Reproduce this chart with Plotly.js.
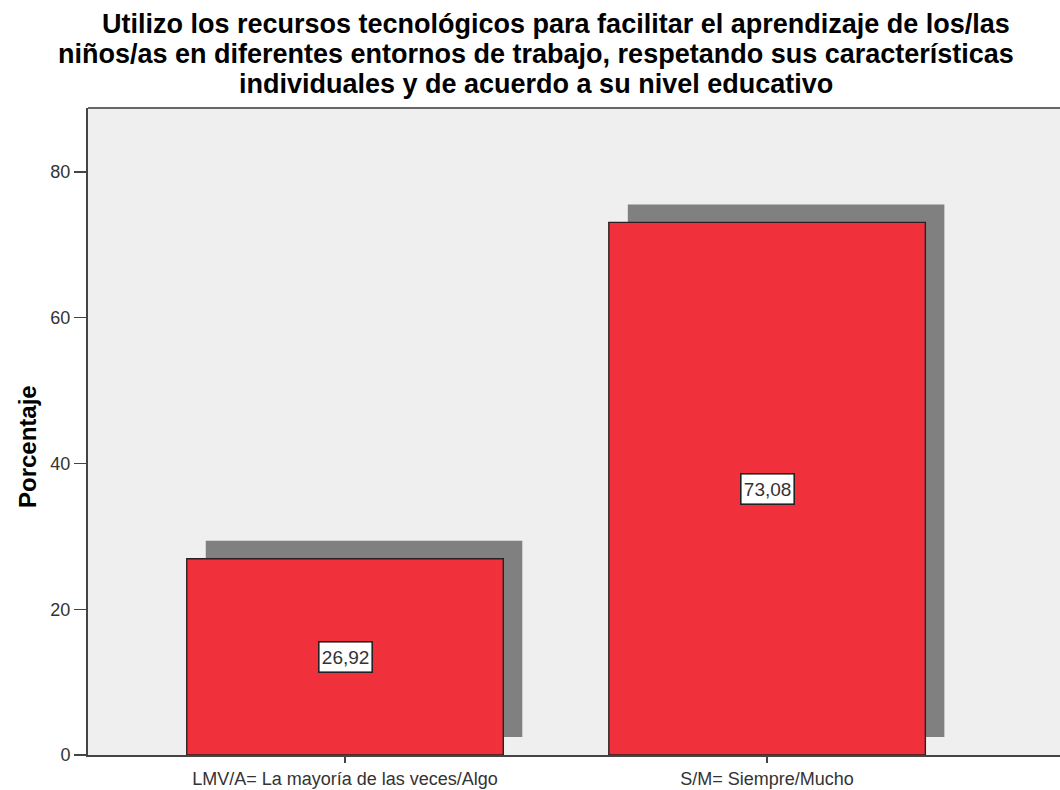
<!DOCTYPE html>
<html>
<head>
<meta charset="utf-8">
<script src="https://cdn.plot.ly/plotly-3.0.1.min.js"></script>
<style>body{margin:0;background:#fff}#chart{width:1060px;height:790px}</style>
</head>
<body>
<div id="chart"></div>
<script>
const categories = ["LMV/A= La mayoría de las veces/Algo", "S/M= Siempre/Mucho"];
const values = [26.92, 73.08];
const valueLabels = ["26,92", "73,08"];
const yTicks = [0, 20, 40, 60, 80];
const titleLines = [
  "Utilizo los recursos tecnológicos para facilitar el aprendizaje de los/las",
  "niños/as en diferentes entornos de trabajo, respetando sus características",
  "individuales y de acuerdo a su nivel educativo"
];
const yTitle = "Porcentaje";

const FONT = 'Liberation Sans, Arial, sans-serif';
const xIdx = categories.map((c, i) => i);
const barWidth = 0.75;
const shadowDx = 0.045;   // category units
const shadowDy = 2.47;    // value units

const plotTop = 108, plotH = 647, plotL = 88, plotW = 972;
const py = p => 1 + (plotTop - p) / plotH;
const px = p => (p - plotL) / plotW;

const shadow = {
  type: 'bar', x: xIdx, y: values, base: values.map(() => shadowDy),
  width: barWidth, offset: -barWidth / 2 + shadowDx,
  marker: {color: '#808080', line: {width: 0}},
  hoverinfo: 'skip', showlegend: false
};
const bars = {
  type: 'bar', x: xIdx, y: values,
  width: barWidth, offset: -barWidth / 2,
  marker: {color: '#F0313B', line: {color: '#2a2020', width: 1.4}},
  showlegend: false
};

const annotations = values.map((v, i) => ({
  x: i, y: v / 2, xref: 'x', yref: 'y', text: valueLabels[i], showarrow: false,
  width: 50, height: 27, align: 'center', valign: 'middle',
  bgcolor: '#ffffff', bordercolor: '#222222', borderwidth: 1.6, borderpad: 1,
  font: {family: FONT, size: 19, color: '#333'}
}));
const titleCenters = [24, 54, 84];
const titleX = [556, 536, 536];
titleLines.forEach((t, i) => annotations.push({
  xref: 'paper', yref: 'paper', x: px(titleX[i]), y: py(titleCenters[i]),
  xanchor: 'center', yanchor: 'middle', showarrow: false, text: t,
  font: {family: FONT, size: 27, color: '#000', weight: 'bold'}
}));
annotations.push({
  xref: 'paper', yref: 'paper', x: px(27), y: py(446), xanchor: 'center', yanchor: 'middle',
  textangle: -90, showarrow: false, text: yTitle,
  font: {family: FONT, size: 24, color: '#000', weight: 'bold'}
});

const layout = {
  width: 1060, height: 790,
  margin: {l: plotL, r: 0, t: plotTop, b: 790 - plotTop - plotH},
  paper_bgcolor: '#ffffff', plot_bgcolor: '#EFEFEF',
  barmode: 'overlay',
  xaxis: {
    range: [-0.609, 1.694], tickmode: 'array', tickvals: xIdx, ticktext: categories,
    showgrid: false, zeroline: false, showline: true, linecolor: '#444', linewidth: 2,
    ticks: 'outside', ticklen: 6, tickwidth: 1.5, tickcolor: '#444',
    tickfont: {family: FONT, size: 18, color: '#333'}
  },
  yaxis: {
    range: [0, 88.78], tickmode: 'array', tickvals: yTicks,
    showgrid: false, zeroline: false, showline: true, linecolor: '#444', linewidth: 2,
    ticks: 'outside', ticklen: 12, tickwidth: 1.5, tickcolor: '#444',
    tickfont: {family: FONT, size: 18, color: '#333'}
  },
  shapes: [{type: 'line', xref: 'paper', yref: 'paper', x0: 0, x1: 1, y0: 1, y1: 1,
    line: {color: '#666', width: 2}}],
  annotations: annotations
};

Plotly.newPlot('chart', [shadow, bars], layout, {staticPlot: true});
</script>
</body>
</html>
